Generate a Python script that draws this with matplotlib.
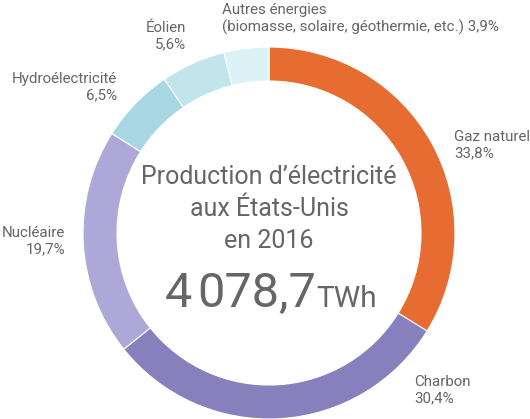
import matplotlib
matplotlib.use('Agg')
import matplotlib.pyplot as plt

plt.rcParams['font.family'] = ['Roboto', 'DejaVu Sans']

# données : production d'électricité aux États-Unis en 2016 (%)
sources = ['Gaz naturel', 'Charbon', 'Nucléaire', 'Hydroélectricité', 'Éolien',
           'Autres énergies\n(biomasse, solaire, géothermie, etc.)']
parts = [33.8, 30.4, 19.7, 6.5, 5.6, 3.9]
parts_txt = ['33,8%', '30,4%', '19,7%', '6,5%', '5,6%', '3,9%']
colors = ['#E66C32', '#8780BC', '#ADA8D8', '#A7D7E3', '#C2E4EB', '#DDF2F6']
total_milliers = '4'
total_reste = '078,7'
unit_txt = 'TWh'

W, H = 530, 419
fig = plt.figure(figsize=(W / 100, H / 100), dpi=100)
ax = fig.add_axes([0, 0, 1, 1])
ax.set_xlim(0, W)
ax.set_ylim(0, H)
ax.set_aspect('equal')
ax.axis('off')

cx, cy, R = 269, H - 233, 186
ax.pie(parts, colors=colors, startangle=90, counterclock=False,
       center=(cx, cy), radius=R,
       wedgeprops=dict(width=34, edgecolor='white', linewidth=0.8))
ax.set_xlim(0, W)
ax.set_ylim(0, H)

grey = '#666666'
lab = dict(fontsize=10.9, color=grey, va='center', linespacing=1.25)

# étiquettes (positions en pixels de l'image)
ax.text(454, H - 145, sources[0] + '\n' + parts_txt[0], ha='left', **lab)
ax.text(414, H - 390, sources[1] + '\n' + parts_txt[1], ha='left', **lab)
ax.text(65, H - 241, sources[2] + '\n' + parts_txt[2], ha='right', multialignment='right', **lab)
ax.text(117, H - 87, sources[3] + '\n' + parts_txt[3], ha='right', multialignment='right', **lab)
ax.text(186, H - 36, sources[4] + '\n' + parts_txt[4], ha='right', multialignment='right', **lab)
ax.text(222, H - 19, sources[5] + ' ' + parts_txt[5], ha='left', multialignment='left', **lab)

ctr = dict(fontsize=18, color=grey, ha='center', va='center')
ax.text(cx, H - 177, 'Production d’électricité', **ctr)
ax.text(cx, H - 209, 'aux États-Unis', **ctr)
ax.text(cx, H - 241, 'en 2016', **ctr)

ax.text(192, H - 307, total_milliers, fontsize=35, color=grey, ha='right', va='baseline')
ax.text(197, H - 307, total_reste, fontsize=35, color=grey, ha='left', va='baseline')
ax.text(316, H - 307, unit_txt, fontsize=21.5, color=grey, ha='left', va='baseline')

fig.savefig('out.png', dpi=100, facecolor='white')
